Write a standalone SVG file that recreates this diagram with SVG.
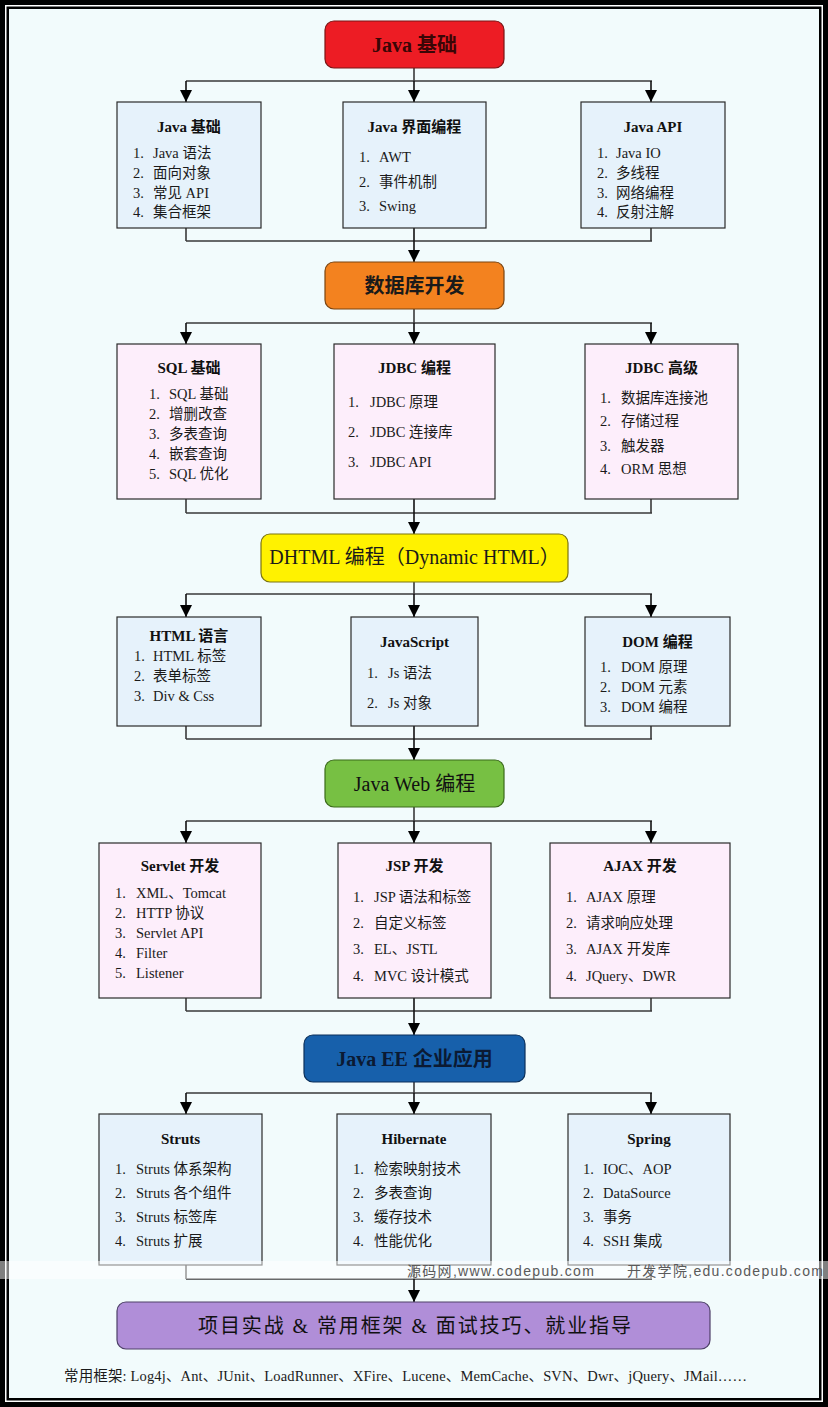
<svg xmlns="http://www.w3.org/2000/svg" width="828" height="1407" viewBox="0 0 828 1407">
<defs>
<style>
.bg{fill:#f2fbfc}
.bb{fill:#e6f2fb;stroke:#2a2a2a;stroke-width:1.2}
.pb{fill:#fdeefb;stroke:#2a2a2a;stroke-width:1.2}
.ttl{font-family:"Liberation Serif","Noto Sans CJK SC",serif;font-size:15px;font-weight:bold;fill:#111;text-anchor:middle}
.it{font-family:"Liberation Serif","Noto Sans CJK SC",serif;font-size:14.5px;fill:#1a1a1a}
.nl{font-family:"Liberation Serif","Noto Sans CJK SC",serif;font-size:20px;text-anchor:middle}
.ln{fill:none;stroke:#3a3a3a;stroke-width:1.6}
.ar{fill:none;stroke:#111;stroke-width:1.6;marker-end:url(#ah)}
.wm{font-family:"Liberation Sans","Noto Sans CJK SC",sans-serif;font-size:14px;fill:#5a5a5a;letter-spacing:1.3px}
</style>
<marker id="ah" markerWidth="12" markerHeight="12" refX="12" refY="6" orient="auto" markerUnits="userSpaceOnUse"><path d="M0,0 L12,6 L0,12 z" fill="#000"/></marker>
</defs>
<rect width="828" height="1407" fill="#000"/>
<rect x="5" y="5" width="818" height="1397" fill="#fff"/>
<rect x="6.5" y="6.5" width="815" height="1394" fill="#000"/>
<rect x="9" y="9" width="810" height="1389" class="bg"/>

<g id="connectors">
<path class="ln" d="M414,68 V81 M186,81 H652"/>
<path class="ar" d="M186,81 V102"/><path class="ar" d="M414,81 V102"/><path class="ar" d="M651,81 V102"/>
<path class="ln" d="M186,228 V241 M651,228 V241 M186,241 H652"/>
<path class="ar" d="M414,228 V262"/>

<path class="ln" d="M414,309 V323 M186,323 H652"/>
<path class="ar" d="M186,323 V344"/><path class="ar" d="M414,323 V344"/><path class="ar" d="M651,323 V344"/>
<path class="ln" d="M186,499 V513 M651,499 V513 M186,513 H652"/>
<path class="ar" d="M414,499 V534"/>

<path class="ln" d="M414,582 V594 M186,594 H652"/>
<path class="ar" d="M186,594 V617"/><path class="ar" d="M414,594 V617"/><path class="ar" d="M651,594 V617"/>
<path class="ln" d="M186,726 V739 M651,726 V739 M186,739 H652"/>
<path class="ar" d="M414,726 V760"/>

<path class="ln" d="M414,807 V821 M186,821 H652"/>
<path class="ar" d="M186,821 V843"/><path class="ar" d="M414,821 V843"/><path class="ar" d="M651,821 V843"/>
<path class="ln" d="M186,998 V1011 M651,998 V1011 M186,1011 H652"/>
<path class="ar" d="M414,998 V1035"/>

<path class="ln" d="M414,1082 V1093 M186,1093 H652"/>
<path class="ar" d="M186,1093 V1114"/><path class="ar" d="M414,1093 V1114"/><path class="ar" d="M651,1093 V1114"/>
<path class="ln" d="M186,1265 V1279 M651,1265 V1279 M186,1279 H652"/>
<path class="ar" d="M414,1265 V1302"/>
</g>

<g id="n-java-basic">
<rect x="325" y="21" width="179" height="47" rx="9" fill="#ed1c24" stroke="#7a1414" stroke-width="1.2"/>
<text class="nl" x="414.5" y="52" font-weight="bold" fill="#3a0606">Java 基础</text>
</g>
<g id="b-java-basic">
<rect class="bb" x="117" y="102" width="144" height="126"/>
<text class="ttl" x="189" y="132">Java 基础</text>
<text class="it" y="158"><tspan x="133">1.</tspan><tspan x="153">Java 语法</tspan></text>
<text class="it" y="178"><tspan x="133">2.</tspan><tspan x="153">面向对象</tspan></text>
<text class="it" y="198"><tspan x="133">3.</tspan><tspan x="153">常见 API</tspan></text>
<text class="it" y="217"><tspan x="133">4.</tspan><tspan x="153">集合框架</tspan></text>
</g>
<g id="b-java-gui">
<rect class="bb" x="343" y="102" width="143" height="126"/>
<text class="ttl" x="414.5" y="132">Java 界面编程</text>
<text class="it" y="162"><tspan x="359">1.</tspan><tspan x="379">AWT</tspan></text>
<text class="it" y="187"><tspan x="359">2.</tspan><tspan x="379">事件机制</tspan></text>
<text class="it" y="211"><tspan x="359">3.</tspan><tspan x="379">Swing</tspan></text>
</g>
<g id="b-java-api">
<rect class="bb" x="581" y="102" width="144" height="126"/>
<text class="ttl" x="653" y="132">Java API</text>
<text class="it" y="158"><tspan x="597">1.</tspan><tspan x="616">Java IO</tspan></text>
<text class="it" y="178"><tspan x="597">2.</tspan><tspan x="616">多线程</tspan></text>
<text class="it" y="198"><tspan x="597">3.</tspan><tspan x="616">网络编程</tspan></text>
<text class="it" y="217"><tspan x="597">4.</tspan><tspan x="616">反射注解</tspan></text>
</g>

<g id="n-db">
<rect x="325" y="262" width="179" height="47" rx="9" fill="#f3821f" stroke="#7a4410" stroke-width="1.2"/>
<text class="nl" x="414.5" y="293" font-size="21" font-weight="bold" fill="#1a1a1a">数据库开发</text>
</g>
<g id="b-sql">
<rect class="pb" x="117" y="344" width="144" height="155"/>
<text class="ttl" x="189" y="373">SQL 基础</text>
<text class="it" y="399"><tspan x="149">1.</tspan><tspan x="169">SQL 基础</tspan></text>
<text class="it" y="419"><tspan x="149">2.</tspan><tspan x="169">增删改查</tspan></text>
<text class="it" y="439"><tspan x="149">3.</tspan><tspan x="169">多表查询</tspan></text>
<text class="it" y="459"><tspan x="149">4.</tspan><tspan x="169">嵌套查询</tspan></text>
<text class="it" y="479"><tspan x="149">5.</tspan><tspan x="169">SQL 优化</tspan></text>
</g>
<g id="b-jdbc">
<rect class="pb" x="334" y="344" width="161" height="155"/>
<text class="ttl" x="414.5" y="373">JDBC 编程</text>
<text class="it" y="407"><tspan x="348">1.</tspan><tspan x="370">JDBC 原理</tspan></text>
<text class="it" y="437"><tspan x="348">2.</tspan><tspan x="370">JDBC 连接库</tspan></text>
<text class="it" y="467"><tspan x="348">3.</tspan><tspan x="370">JDBC API</tspan></text>
</g>
<g id="b-jdbc-adv">
<rect class="pb" x="585" y="344" width="153" height="155"/>
<text class="ttl" x="661.5" y="373">JDBC 高级</text>
<text class="it" y="403"><tspan x="600">1.</tspan><tspan x="621">数据库连接池</tspan></text>
<text class="it" y="426"><tspan x="600">2.</tspan><tspan x="621">存储过程</tspan></text>
<text class="it" y="451"><tspan x="600">3.</tspan><tspan x="621">触发器</tspan></text>
<text class="it" y="474"><tspan x="600">4.</tspan><tspan x="621">ORM 思想</tspan></text>
</g>

<g id="n-dhtml">
<rect x="261" y="534" width="307" height="48" rx="9" fill="#fff200" stroke="#7a7410" stroke-width="1.2"/>
<text class="nl" x="414.5" y="564" font-size="18" fill="#1a1a1a">DHTML 编程（Dynamic HTML）</text>
</g>
<g id="b-html">
<rect class="bb" x="117" y="617" width="144" height="109"/>
<text class="ttl" x="189" y="641">HTML 语言</text>
<text class="it" y="661"><tspan x="134">1.</tspan><tspan x="153">HTML 标签</tspan></text>
<text class="it" y="681"><tspan x="134">2.</tspan><tspan x="153">表单标签</tspan></text>
<text class="it" y="701"><tspan x="134">3.</tspan><tspan x="153">Div &amp; Css</tspan></text>
</g>
<g id="b-js">
<rect class="bb" x="351" y="617" width="127" height="109"/>
<text class="ttl" x="414.5" y="647">JavaScript</text>
<text class="it" y="678"><tspan x="367">1.</tspan><tspan x="388">Js 语法</tspan></text>
<text class="it" y="708"><tspan x="367">2.</tspan><tspan x="388">Js 对象</tspan></text>
</g>
<g id="b-dom">
<rect class="bb" x="585" y="617" width="145" height="109"/>
<text class="ttl" x="657.5" y="647">DOM 编程</text>
<text class="it" y="672"><tspan x="600">1.</tspan><tspan x="621">DOM 原理</tspan></text>
<text class="it" y="692"><tspan x="600">2.</tspan><tspan x="621">DOM 元素</tspan></text>
<text class="it" y="712"><tspan x="600">3.</tspan><tspan x="621">DOM 编程</tspan></text>
</g>

<g id="n-javaweb">
<rect x="325" y="760" width="179" height="47" rx="9" fill="#77c043" stroke="#3a6a1a" stroke-width="1.2"/>
<text class="nl" x="414.5" y="791" fill="#111">Java Web 编程</text>
</g>
<g id="b-servlet">
<rect class="pb" x="99" y="843" width="162" height="155"/>
<text class="ttl" x="180" y="871">Servlet 开发</text>
<text class="it" y="898"><tspan x="115">1.</tspan><tspan x="136">XML、Tomcat</tspan></text>
<text class="it" y="918"><tspan x="115">2.</tspan><tspan x="136">HTTP 协议</tspan></text>
<text class="it" y="938"><tspan x="115">3.</tspan><tspan x="136">Servlet API</tspan></text>
<text class="it" y="958"><tspan x="115">4.</tspan><tspan x="136">Filter</tspan></text>
<text class="it" y="978"><tspan x="115">5.</tspan><tspan x="136">Listener</tspan></text>
</g>
<g id="b-jsp">
<rect class="pb" x="338" y="843" width="153" height="155"/>
<text class="ttl" x="414.5" y="871">JSP 开发</text>
<text class="it" y="902"><tspan x="353">1.</tspan><tspan x="374">JSP 语法和标签</tspan></text>
<text class="it" y="928"><tspan x="353">2.</tspan><tspan x="374">自定义标签</tspan></text>
<text class="it" y="954"><tspan x="353">3.</tspan><tspan x="374">EL、JSTL</tspan></text>
<text class="it" y="981"><tspan x="353">4.</tspan><tspan x="374">MVC 设计模式</tspan></text>
</g>
<g id="b-ajax">
<rect class="pb" x="550" y="843" width="180" height="155"/>
<text class="ttl" x="640" y="871">AJAX 开发</text>
<text class="it" y="902"><tspan x="566">1.</tspan><tspan x="586">AJAX 原理</tspan></text>
<text class="it" y="928"><tspan x="566">2.</tspan><tspan x="586">请求响应处理</tspan></text>
<text class="it" y="954"><tspan x="566">3.</tspan><tspan x="586">AJAX 开发库</tspan></text>
<text class="it" y="981"><tspan x="566">4.</tspan><tspan x="586">JQuery、DWR</tspan></text>
</g>

<g id="n-javaee">
<rect x="304" y="1035" width="221" height="47" rx="9" fill="#1760ab" stroke="#0a2f5a" stroke-width="1.2"/>
<text class="nl" x="414.5" y="1066" font-weight="bold" fill="#0b1a33">Java EE 企业应用</text>
</g>
<g id="b-struts">
<rect class="bb" x="99" y="1114" width="163" height="151"/>
<text class="ttl" x="180.5" y="1144">Struts</text>
<text class="it" y="1174"><tspan x="115">1.</tspan><tspan x="136">Struts 体系架构</tspan></text>
<text class="it" y="1198"><tspan x="115">2.</tspan><tspan x="136">Struts 各个组件</tspan></text>
<text class="it" y="1222"><tspan x="115">3.</tspan><tspan x="136">Struts 标签库</tspan></text>
<text class="it" y="1246"><tspan x="115">4.</tspan><tspan x="136">Struts 扩展</tspan></text>
</g>
<g id="b-hibernate">
<rect class="bb" x="337" y="1114" width="154" height="151"/>
<text class="ttl" x="414" y="1144">Hibernate</text>
<text class="it" y="1174"><tspan x="353">1.</tspan><tspan x="374">检索映射技术</tspan></text>
<text class="it" y="1198"><tspan x="353">2.</tspan><tspan x="374">多表查询</tspan></text>
<text class="it" y="1222"><tspan x="353">3.</tspan><tspan x="374">缓存技术</tspan></text>
<text class="it" y="1246"><tspan x="353">4.</tspan><tspan x="374">性能优化</tspan></text>
</g>
<g id="b-spring">
<rect class="bb" x="568" y="1114" width="162" height="151"/>
<text class="ttl" x="649" y="1144">Spring</text>
<text class="it" y="1174"><tspan x="583">1.</tspan><tspan x="603">IOC、AOP</tspan></text>
<text class="it" y="1198"><tspan x="583">2.</tspan><tspan x="603">DataSource</tspan></text>
<text class="it" y="1222"><tspan x="583">3.</tspan><tspan x="603">事务</tspan></text>
<text class="it" y="1246"><tspan x="583">4.</tspan><tspan x="603">SSH 集成</tspan></text>
</g>

<g id="n-project">
<rect x="117" y="1302" width="593" height="47" rx="9" fill="#b08ed8" stroke="#4e4068" stroke-width="1.2"/>
<text class="nl" x="414.5" y="1333" font-size="21" fill="#111" textLength="433" lengthAdjust="spacing">项目实战 &amp; 常用框架 &amp; 面试技巧、就业指导</text>
</g>

<text id="footer" x="64" y="1381" class="it" font-size="13" textLength="683" lengthAdjust="spacing">常用框架: Log4j、Ant、JUnit、LoadRunner、XFire、Lucene、MemCache、SVN、Dwr、jQuery、JMail……</text>

<g id="watermark">
<rect x="0" y="1261" width="828" height="18" fill="#fff" fill-opacity="0.5"/>
<text class="wm" x="407" y="1276">源码网,www.codepub.com</text>
<text class="wm" x="627" y="1276">开发学院,edu.codepub.com</text>
</g>
</svg>
